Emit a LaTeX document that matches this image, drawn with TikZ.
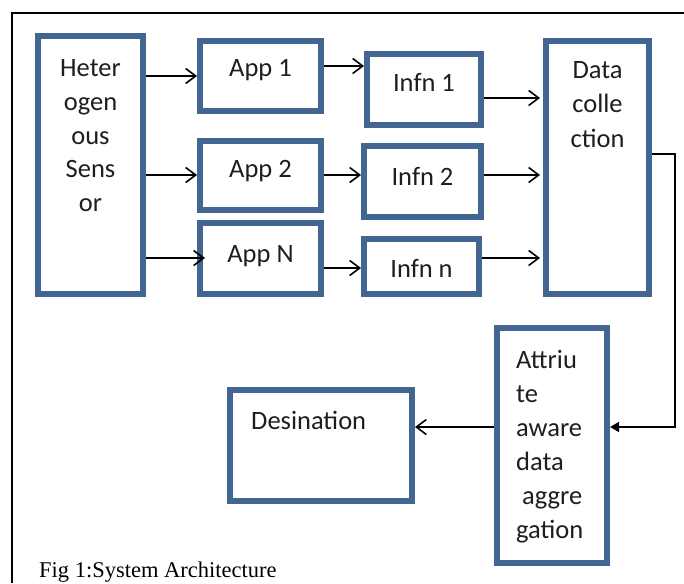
\documentclass[tikz,border=0pt]{standalone}
\usepackage{fontspec}
\setmainfont{Carlito}
\newfontfamily\capfont{Liberation Serif}
\usetikzlibrary{arrows.meta}
\definecolor{boxblue}{RGB}{66,101,146}
\definecolor{txt}{RGB}{30,30,30}
\tikzset{
  box/.style={draw=boxblue, line width=6pt, fill=white, rectangle, inner sep=0pt},
  lbl/.style={anchor=base, inner sep=0pt, text=txt, font=\fontsize{26.5}{30}\selectfont},
  lbll/.style={lbl, anchor=base west},
  conn/.style={line width=1.6pt, -{Straight Barb[length=10pt,width=15pt,line width=1.6pt]}},
  connf/.style={line width=1.6pt, -{Triangle[length=9pt,width=10pt]}},
}
\begin{document}
\begin{tikzpicture}[x=1pt,y=-1pt]
\useasboundingbox (0,0) rectangle (684,583);
% frame
\draw[line width=2pt] (684,13) -- (12,13) -- (12,583);
% boxes
\node[box, minimum width=105pt, minimum height=258pt] (sensor) at (90.5,165) {};
\node[box, minimum width=121pt, minimum height=70pt] (app1) at (260.5,76) {};
\node[box, minimum width=121pt, minimum height=69pt] (app2) at (260.5,175.5) {};
\node[box, minimum width=121pt, minimum height=71pt] (appn) at (260.5,258.5) {};
\node[box, minimum width=114pt, minimum height=71pt] (inf1) at (424,89.5) {};
\node[box, minimum width=117pt, minimum height=71pt] (inf2) at (422.5,181.5) {};
\node[box, minimum width=115pt, minimum height=55pt] (infn) at (421.5,266.5) {};
\node[box, minimum width=103pt, minimum height=253pt] (data) at (597.5,167.5) {};
\node[box, minimum width=110pt, minimum height=235pt] (attr) at (552,445.5) {};
\node[box, minimum width=182pt, minimum height=111pt] (dest) at (321,445.5) {};
% texts
\node[lbl] (s1) at (90.5,77) {Heter};
\node[lbl] (s2) at (90.5,110.5) {ogen};
\node[lbl] (s3) at (90.5,144) {ous};
\node[lbl] (s4) at (90.5,177.5) {Sens};
\node[lbl] (s5) at (90.5,211) {or};
\node[lbl] (a1t) at (260.5,77) {App 1};
\node[lbl] (a2t) at (260.5,177) {App 2};
\node[lbl] (ant) at (260.5,262) {App N};
\node[lbl] (i1t) at (424,92) {Infn 1};
\node[lbl] (i2t) at (422.5,185) {Infn 2};
\node[lbl] (int) at (421.5,277) {Infn n};
\node[lbl] (d1) at (597.5,79) {Data};
\node[lbl] (d2) at (597.5,113) {colle};
\node[lbl] (d3) at (597.5,147) {ction};
\node[lbll] (t1) at (516,368) {Attriu};
\node[lbll] (t2) at (516,402) {te};
\node[lbll] (t3) at (516,436) {aware};
\node[lbll] (t4) at (516,470) {data};
\node[lbll] (t5) at (522,504) {aggre};
\node[lbll] (t6) at (516,538) {gation};
\node[lbll] (dt) at (251,429) {Desination};
\node[anchor=base west, inner sep=0pt, font=\capfont\fontsize{22.5}{26}\selectfont] (cap) at (39,577) {Fig 1:System Architecture};
% connectors
\draw[conn] (sensor.east |- 0,76) -- (app1.west |- 0,76);
\draw[conn] (sensor.east |- 0,175) -- (app2.west |- 0,175);
\draw[conn] (sensor.east |- 0,258) -- ([xshift=8pt]appn.west |- 0,258);
\draw[conn] (app1.east |- 0,66) -- (inf1.west |- 0,66);
\draw[conn] (app2.east |- 0,175) -- (inf2.west |- 0,175);
\draw[conn] (appn.east |- 0,268) -- (infn.west |- 0,268);
\draw[conn] (inf1.east |- 0,98) -- ([xshift=-3pt]data.west |- 0,98);
\draw[conn] (inf2.east |- 0,175) -- ([xshift=-3pt]data.west |- 0,175);
\draw[conn] (infn.east |- 0,258) -- ([xshift=-3pt]data.west |- 0,258);
\coordinate (c1) at (675,154);
\coordinate (c2) at (675,427);
\draw[connf] (data.east |- c1) -- (c1) -- (c2) -- (attr.east |- c2);
\draw[conn] (attr.west |- c2) -- (dest.east |- c2);
\end{tikzpicture}
\end{document}
